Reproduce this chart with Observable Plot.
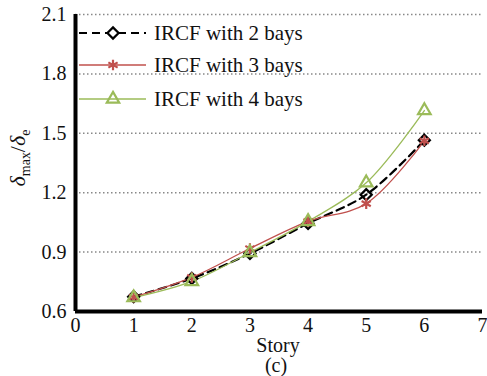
<!DOCTYPE html>
<html><head><meta charset="utf-8">
<script src="https://cdn.jsdelivr.net/npm/d3@7"></script>
<script src="https://cdn.jsdelivr.net/npm/@observablehq/plot@0.6"></script>
<style>body{margin:0;background:#fff;} #c{position:relative;width:487px;height:376px;}
#c svg text{font-family:"Liberation Serif","DejaVu Serif",serif;}</style>
</head><body><div id="c"></div>
<script>
const stories = [1, 2, 3, 4, 5, 6];
const bays2 = [0.675, 0.767, 0.893, 1.045, 1.19, 1.465];
const bays3 = [0.672, 0.772, 0.918, 1.055, 1.145, 1.462];
const bays4 = [0.67, 0.752, 0.898, 1.055, 1.25, 1.615];
const seriesNames = ["IRCF with 2 bays", "IRCF with 3 bays", "IRCF with 4 bays"];
const xTicks = [0, 1, 2, 3, 4, 5, 6, 7];
const yTicks = [0.6, 0.9, 1.2, 1.5, 1.8, 2.1];

const colors = ["#000000", "#c0504d", "#9bbb59"];
const symbols = ["diamond2", "asterisk", "triangle2"];
const dashes = ["8,5", null, null];
const all = [bays2, bays3, bays4];
const data = [];
all.forEach((arr, s) => arr.forEach((v, i) => data.push({series: seriesNames[s], story: stories[i], value: v})));

const font = "Liberation Serif, DejaVu Serif, serif";
const marks = [
  Plot.ruleY(yTicks.filter(d => d > 0.6), {stroke: "#888", strokeWidth: 1.5, strokeDasharray: "1.5,2.5"}),
];
seriesNames.forEach((name, s) => {
  const d = data.filter(r => r.series === name);
  marks.push(Plot.line(d, {x: "story", y: "value", stroke: colors[s], strokeWidth: s === 0 ? 2.2 : 1.3, strokeDasharray: dashes[s], curve: "catmull-rom"}));
});
seriesNames.forEach((name, s) => {
  const d = data.filter(r => r.series === name);
  marks.push(Plot.dot(d, {x: "story", y: "value", stroke: colors[s], fill: "none", strokeWidth: 2.2, symbol: () => symbols[s], r: s === 2 ? 6 : 5}));
});
marks.push(
  Plot.ruleX([0], {stroke: "#000", strokeWidth: 4}),
  Plot.ruleY([0.6], {stroke: "#000", strokeWidth: 4}),
  Plot.axisX(xTicks, {tickSize: 0, tickPadding: 6, label: null, fontSize: 20, fill: "#111"}),
  Plot.axisY(yTicks, {tickSize: 0, tickPadding: 9, label: null, fontSize: 20, fill: "#111", tickFormat: d3.format(".1f")})
);

const chart = Plot.plot({
  width: 487, height: 376,
  marginLeft: 75, marginRight: 5, marginTop: 14, marginBottom: 65,
  style: {fontFamily: font, background: "#fff"},
  x: {domain: [0, 7]},
  y: {domain: [0.6, 2.1]},
  symbol: {type: "identity"},
  marks
});
document.getElementById("c").appendChild(chart);

const svg = d3.select(chart);
// legend
const lg = svg.append("g").attr("text-anchor", "start");
const rowsY = [33, 65, 99];
seriesNames.forEach((name, s) => {
  const y = rowsY[s];
  lg.append("line").attr("x1", 79).attr("x2", 146).attr("y1", y).attr("y2", y)
    .attr("stroke", colors[s]).attr("stroke-width", s === 0 ? 2.2 : 1.3).attr("stroke-dasharray", dashes[s]);
  const sym = d3.symbol().type([d3.symbolDiamond2, d3.symbolAsterisk, d3.symbolTriangle2][s]).size(s === 2 ? 110 : 80);
  lg.append("path").attr("d", sym()).attr("transform", `translate(113,${y})`)
    .attr("fill", s === 0 ? "#fff" : "none").attr("stroke", colors[s]).attr("stroke-width", 2.2);
  lg.append("text").attr("x", 154).attr("y", y).attr("dy", "0.35em").attr("font-size", 21)
    .attr("fill", "#111").text(name);
});
// y label
const yl = svg.append("text").attr("transform", "translate(25,158) rotate(-90)")
  .attr("text-anchor", "middle").attr("font-size", 22).attr("fill", "#111");
yl.append("tspan").attr("font-style", "italic").text("δ");
yl.append("tspan").attr("font-size", 14).attr("dy", 5).text("max");
yl.append("tspan").attr("dy", -5).text("/");
yl.append("tspan").attr("font-style", "italic").text("δ");
yl.append("tspan").attr("font-size", 14).attr("dy", 5).text("e");
// x label
svg.append("text").attr("x", 278).attr("y", 352).attr("text-anchor", "middle")
  .attr("font-size", 20).attr("fill", "#111").text("Story");
svg.append("text").attr("x", 276).attr("y", 372).attr("text-anchor", "middle")
  .attr("font-size", 20).attr("fill", "#111").text("(c)");
</script></body></html>
